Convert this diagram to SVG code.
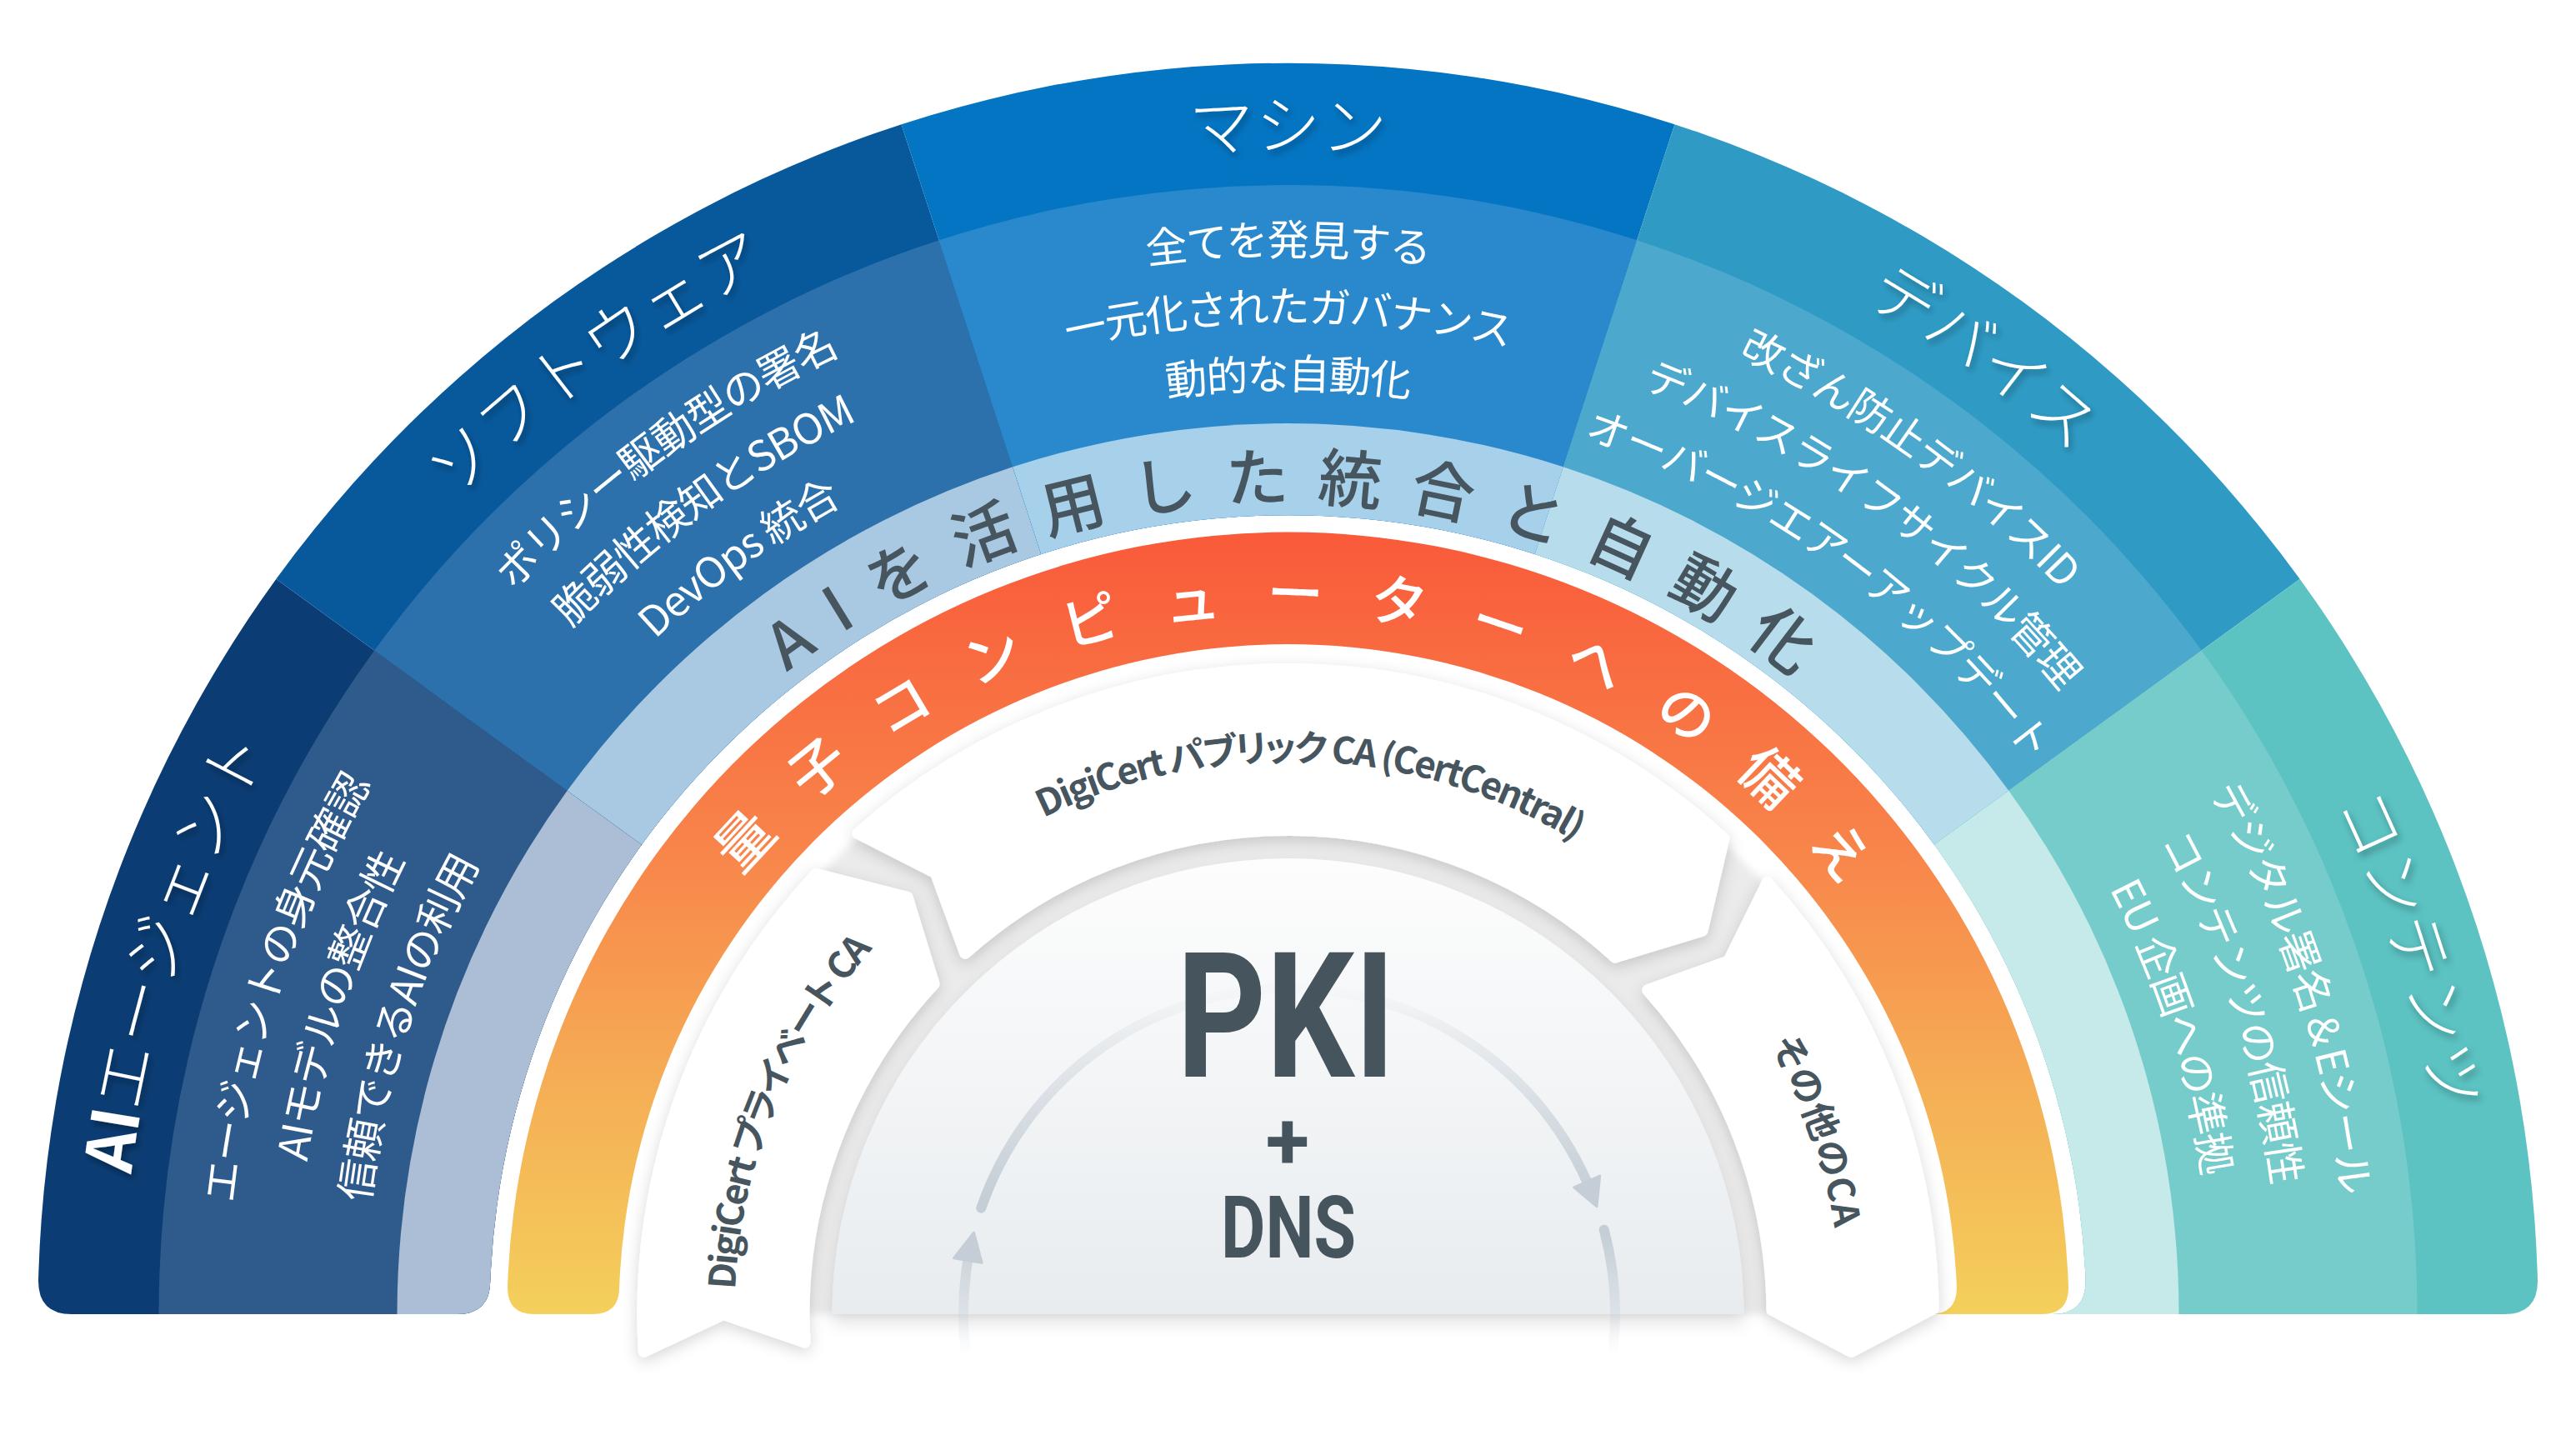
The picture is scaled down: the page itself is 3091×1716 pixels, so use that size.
<svg xmlns="http://www.w3.org/2000/svg" width="3091" height="1716" viewBox="0 0 3091 1716">
<defs>
<style>
.t{font-family:"Noto Sans CJK JP","Noto Sans",sans-serif;font-size:78px;font-weight:300;fill:#fff;text-anchor:middle}
.d{font-family:"Noto Sans CJK JP","Noto Sans",sans-serif;font-size:50px;fill:#fff;letter-spacing:-1.5px;text-anchor:middle}
.l{font-family:"Noto Sans CJK JP","Noto Sans",sans-serif;font-size:76px;fill:#46555e;font-weight:500;letter-spacing:33px;text-anchor:middle}
.o{font-family:"Noto Sans CJK JP","Noto Sans",sans-serif;font-size:68px;fill:#fff;font-weight:500;letter-spacing:53px;text-anchor:middle}
.c{font-family:"Noto Sans CJK JP","Noto Sans",sans-serif;font-size:44px;fill:#46555e;font-weight:600;text-anchor:middle;font-feature-settings:"palt"}
.k{font-family:Roboto,"Liberation Sans",sans-serif;font-weight:700;fill:#46555d;text-anchor:middle}
.card{fill:#fff;stroke:#fff;stroke-width:14;stroke-linejoin:round}
.arr{fill:none;stroke-width:12;stroke-linecap:round}
</style>
<path id="arcT" d="M 147.5 1577 A 1398 1398 0 0 1 2943.5 1577"/>
<path id="arcD1" d="M 274.5 1577 A 1271 1271 0 0 1 2816.5 1577"/>
<path id="arcD2" d="M 354.5 1577 A 1191 1191 0 0 1 2736.5 1577"/>
<path id="arcD3" d="M 435.5 1577 A 1110 1110 0 0 1 2655.5 1577"/>
<path id="arcL" d="M 568.5 1577 A 977 977 0 0 1 2522.5 1577"/>
<path id="arcO" d="M 705.5 1577 A 840 840 0 0 1 2385.5 1577"/>
<path id="arcC" d="M 881.5 1577 A 664 664 0 0 1 2209.5 1577"/>
<clipPath id="bandClip">
<path d="M 86 1577 L 548.3 1577 Q 588.3 1577 588.3 1537 A 958 958 0 0 1 2502.7 1537 Q 2502.7 1577 2462.7 1577 L 3005 1577 Q 3045 1577 3045 1537 A 1500 1500 0 0 0 46 1537 Q 46 1577 86 1577 Z"/>
</clipPath>
<linearGradient id="og" gradientUnits="userSpaceOnUse" x1="0" y1="640" x2="0" y2="1577">
<stop offset="0" stop-color="#f95a3a"/>
<stop offset="0.4" stop-color="#f8844a"/>
<stop offset="0.7" stop-color="#f5ad55"/>
<stop offset="1" stop-color="#f4d05c"/>
</linearGradient>
<linearGradient id="dg" gradientUnits="userSpaceOnUse" x1="0" y1="1030" x2="0" y2="1577">
<stop offset="0" stop-color="#fdfdfd"/>
<stop offset="1" stop-color="#e8ecef"/>
</linearGradient>
<linearGradient id="agTop" gradientUnits="userSpaceOnUse" x1="0" y1="1190" x2="0" y2="1440">
<stop offset="0" stop-color="#c5ced6" stop-opacity="0.05"/>
<stop offset="1" stop-color="#c5ced6" stop-opacity="1"/>
</linearGradient>
<linearGradient id="agBot" gradientUnits="userSpaceOnUse" x1="0" y1="1480" x2="0" y2="1625">
<stop offset="0" stop-color="#c5ced6" stop-opacity="1"/>
<stop offset="1" stop-color="#c5ced6" stop-opacity="0"/>
</linearGradient>
<filter id="ts" x="-20%" y="-50%" width="140%" height="200%">
<feDropShadow dx="3" dy="5" stdDeviation="4" flood-color="#000" flood-opacity="0.35"/>
</filter>
<filter id="cs" x="-20%" y="-20%" width="140%" height="140%">
<feDropShadow dx="0" dy="5" stdDeviation="9" flood-color="#000" flood-opacity="0.16"/>
</filter>
<filter id="ds" x="-20%" y="-20%" width="140%" height="140%">
<feDropShadow dx="0" dy="10" stdDeviation="10" flood-color="#000" flood-opacity="0.12"/>
</filter>
<filter id="bl" x="-10%" y="-10%" width="120%" height="120%">
<feGaussianBlur stdDeviation="5"/>
</filter>
</defs>
<rect width="3091" height="1716" fill="#fff"/>

<g id="sector-ai-agent">
<g clip-path="url(#bandClip)">
<path fill="#0b3d74" d="M 1545.5 1577 L 315.8 683.6 A 1520 1520 0 0 0 31.3 1709.5 Z"/>
<path fill="#2e5b8b" d="M 1545.5 1577 L 449.3 780.5 A 1355 1355 0 0 0 195.7 1695.1 Z"/>
<path fill="#abbed5" d="M 1545.5 1577 L 680.7 948.7 A 1069 1069 0 0 0 480.6 1670.2 Z"/>
</g>
<text class="t" filter="url(#ts)"><textPath href="#arcT" startOffset="10%"><tspan font-weight="700">AI</tspan>エージェント</textPath></text>
<text class="d"><textPath href="#arcD1" startOffset="10%">エージェントの身元確認</textPath></text>
<text class="d"><textPath href="#arcD2" startOffset="10%">AIモデルの整合性</textPath></text>
<text class="d"><textPath href="#arcD3" startOffset="10%">信頼できるAIの利用</textPath></text>
</g>

<g id="sector-software">
<g clip-path="url(#bandClip)">
<path fill="#08599c" d="M 1545.5 1577 L 1075.8 131.4 A 1520 1520 0 0 0 315.8 683.6 Z"/>
<path fill="#2c71ac" d="M 1545.5 1577 L 1126.8 288.3 A 1355 1355 0 0 0 449.3 780.5 Z"/>
<path fill="#a9c9e2" d="M 1545.5 1577 L 1215.2 560.3 A 1069 1069 0 0 0 680.7 948.7 Z"/>
</g>
<text class="t" filter="url(#ts)"><textPath href="#arcT" startOffset="30%">ソフトウェア</textPath></text>
<text class="d"><textPath href="#arcD1" startOffset="30%">ポリシー駆動型の署名</textPath></text>
<text class="d"><textPath href="#arcD2" startOffset="30%">脆弱性検知とSBOM</textPath></text>
<text class="d"><textPath href="#arcD3" startOffset="30%">DevOps 統合</textPath></text>
</g>

<g id="sector-machine">
<g clip-path="url(#bandClip)">
<path fill="#0475c3" d="M 1545.5 1577 L 2015.2 131.4 A 1520 1520 0 0 0 1075.8 131.4 Z"/>
<path fill="#2a88cc" d="M 1545.5 1577 L 1964.2 288.3 A 1355 1355 0 0 0 1126.8 288.3 Z"/>
<path fill="#a7d0ea" d="M 1545.5 1577 L 1875.8 560.3 A 1069 1069 0 0 0 1215.2 560.3 Z"/>
</g>
<text class="t" filter="url(#ts)"><textPath href="#arcT" startOffset="50%">マシン</textPath></text>
<text class="d"><textPath href="#arcD1" startOffset="50%">全てを発見する</textPath></text>
<text class="d"><textPath href="#arcD2" startOffset="50%">一元化されたガバナンス</textPath></text>
<text class="d"><textPath href="#arcD3" startOffset="50%">動的な自動化</textPath></text>
</g>

<g id="sector-device">
<g clip-path="url(#bandClip)">
<path fill="#2f9bc5" d="M 1545.5 1577 L 2775.2 683.6 A 1520 1520 0 0 0 2015.2 131.4 Z"/>
<path fill="#4ca9cd" d="M 1545.5 1577 L 2641.7 780.5 A 1355 1355 0 0 0 1964.2 288.3 Z"/>
<path fill="#b7dceb" d="M 1545.5 1577 L 2410.3 948.7 A 1069 1069 0 0 0 1875.8 560.3 Z"/>
</g>
<text class="t" filter="url(#ts)"><textPath href="#arcT" startOffset="70%">デバイス</textPath></text>
<text class="d"><textPath href="#arcD1" startOffset="70%">改ざん防止デバイスID</textPath></text>
<text class="d"><textPath href="#arcD2" startOffset="70%">デバイスライフサイクル管理</textPath></text>
<text class="d"><textPath href="#arcD3" startOffset="70%">オーバージエアーアップデート</textPath></text>
</g>

<g id="sector-content">
<g clip-path="url(#bandClip)">
<path fill="#5cc2c2" d="M 1545.5 1577 L 3059.7 1709.5 A 1520 1520 0 0 0 2775.2 683.6 Z"/>
<path fill="#76cccb" d="M 1545.5 1577 L 2895.3 1695.1 A 1355 1355 0 0 0 2641.7 780.5 Z"/>
<path fill="#c6eaea" d="M 1545.5 1577 L 2610.4 1670.2 A 1069 1069 0 0 0 2410.3 948.7 Z"/>
</g>
<text class="t" filter="url(#ts)"><textPath href="#arcT" startOffset="90%">コンテンツ</textPath></text>
<text class="d"><textPath href="#arcD1" startOffset="90%">デジタル署名＆Eシール</textPath></text>
<text class="d"><textPath href="#arcD2" startOffset="90%">コンテンツの信頼性</textPath></text>
<text class="d"><textPath href="#arcD3" startOffset="90%">EU 企画への準拠</textPath></text>
</g>

<g id="ring-ai-integration">
<text class="l"><textPath href="#arcL" startOffset="50.67%">AIを活用した統合と自動化</textPath></text>
</g>

<g id="ring-quantum">
<path fill="url(#og)" d="M 641 1577 L 711 1577 Q 743.1 1577 743.1 1545 A 803 803 0 0 1 2347.9 1545 Q 2347.9 1577 2316 1577 L 2450 1577 Q 2482 1577 2482 1545 A 937 937 0 0 0 609 1545 Q 609 1577 641 1577 Z"/>
<text class="o"><textPath href="#arcO" startOffset="51.3%">量子コンピューターへの備え</textPath></text>
</g>

<path id="track" fill="#ebebec" filter="url(#bl)" d="M 775.5 1577 A 770 770 0 0 1 2315.5 1577 Z"/>

<g id="card-private-ca">
<path class="card" filter="url(#cs)" d="M 772.8 1621.6 A 774 774 0 0 1 979.4 1049.1 L 1088.7 1076.7 L 1120.6 1180.8 A 581 581 0 0 0 965.5 1610.4 L 868 1577 Z"/>
<text class="c"><textPath href="#arcC" startOffset="12.2%" textLength="450">DigiCert プライベート CA</textPath></text>
</g>

<g id="card-public-ca">
<path class="card" filter="url(#cs)" d="M 1029.6 1000 A 774 774 0 0 1 2068.4 1006.3 L 2042.6 1116.7 L 1938 1148.6 A 581 581 0 0 0 1158.2 1143.9 L 1122.8 1047.5 Z"/>
<text class="c"><textPath href="#arcC" startOffset="51.4%" textLength="666">DigiCert パブリック CA (CertCentral)</textPath></text>
</g>

<g id="card-other-ca">
<path class="card" filter="url(#cs)" d="M 2120.7 1059.1 A 774 774 0 0 1 2319.5 1570.2 L 2221.5 1621.9 L 2126.5 1571.9 A 581 581 0 0 0 1977.3 1188.2 L 2074.2 1153.4 Z"/>
<text class="c"><textPath href="#arcC" startOffset="89.4%" textLength="235">その他のCA</textPath></text>
</g>

<g id="core-pki">
<path fill="url(#dg)" filter="url(#ds)" d="M 998.5 1577 A 547 547 0 0 1 2092.5 1577 Z"/>
</g>

<g id="connectors">
<path class="arr" stroke="url(#agTop)" d="M 1177.3 1449.7 A 391 391 0 0 1 1904.2 1418"/>
<polygon fill="#c5ced6" stroke="#c5ced6" stroke-width="3" stroke-linejoin="round" points="1916,1447.8 1919.7,1411.1 1888.7,1424.9"/>
<path class="arr" stroke="url(#agBot)" d="M 1924.7 1475.8 A 391 391 0 0 1 1935.1 1624.6"/>
<path class="arr" stroke="url(#agBot)" d="M 1158.9 1624.6 A 391 391 0 0 1 1160.8 1515.8"/>
<polygon fill="#c5ced6" stroke="#c5ced6" stroke-width="3" stroke-linejoin="round" points="1168.5,1479.1 1144.6,1509.7 1178.2,1515.3"/>
</g>

<g id="core-pki-label">
<text class="k" x="1543" y="1292" font-size="210" textLength="262" lengthAdjust="spacingAndGlyphs">PKI</text>
<text class="k" x="1545" y="1402" font-size="96">+</text>
<text class="k" x="1546" y="1509" font-size="103" textLength="162" lengthAdjust="spacingAndGlyphs">DNS</text>
</g>
</svg>
